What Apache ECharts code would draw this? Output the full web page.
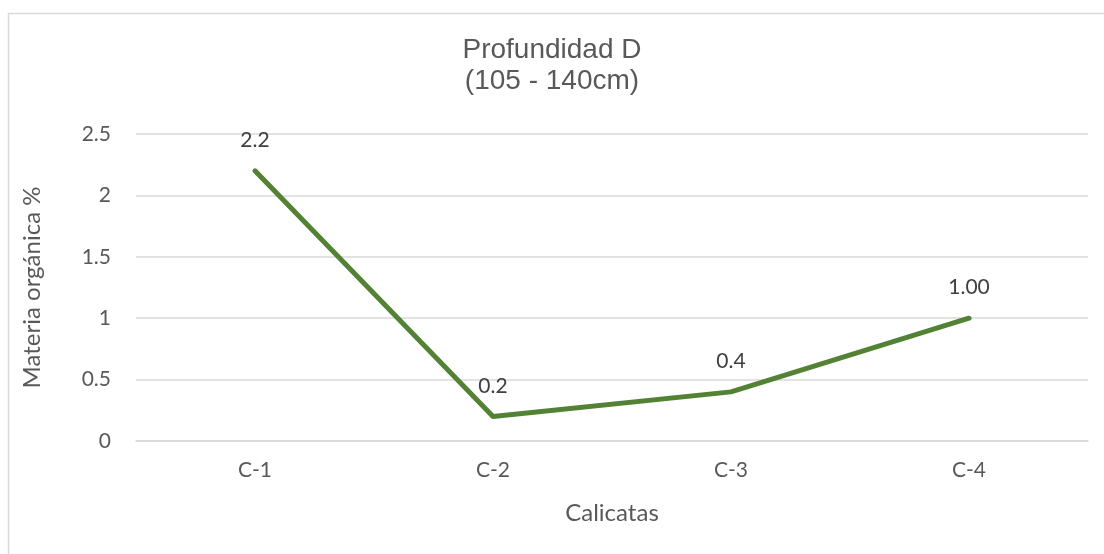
<!DOCTYPE html>
<html>
<head>
<meta charset="utf-8">
<script src="https://cdn.jsdelivr.net/npm/echarts@6/dist/echarts.min.js"></script>
<style>
  html, body { margin: 0; padding: 0; background: #fff; }
  #chart { width: 1104px; height: 554px; }
</style>
</head>
<body>
<div id="chart"></div>
<script>
// datos
var categorias = ['C-1', 'C-2', 'C-3', 'C-4'];
var materiaOrganica = [2.2, 0.2, 0.4, 1.0];
var etiquetas = ['2.2', '0.2', '0.4', '1.00'];

var chart = echarts.init(document.getElementById('chart'));

var option = {
  backgroundColor: '#fff',
  animation: false,
  title: {
    text: 'Profundidad D\n(105 - 140cm)',
    left: 'center',
    top: 30,
    textStyle: {
      fontFamily: 'Liberation Sans',
      fontSize: 28,
      fontWeight: 'normal',
      color: '#595959',
      lineHeight: 31
    }
  },
  graphic: [
    { type: 'line', shape: { x1: 8, y1: 13.5, x2: 1104, y2: 13.5 }, style: { stroke: '#d9d9d9', lineWidth: 1.5 } },
    { type: 'line', shape: { x1: 8.5, y1: 13, x2: 8.5, y2: 554 }, style: { stroke: '#d9d9d9', lineWidth: 1.5 } }
  ],
  grid: {
    left: 136,
    right: 16,
    top: 134,
    bottom: 113
  },
  xAxis: {
    type: 'category',
    data: categorias,
    name: 'Calicatas',
    nameLocation: 'middle',
    nameGap: 60,
    nameTextStyle: { fontFamily: 'Lato', fontSize: 24, color: '#595959' },
    axisLine: { show: true, lineStyle: { color: '#d9d9d9', width: 1.5 } },
    axisTick: { show: false },
    axisLabel: { fontFamily: 'Lato', fontSize: 21, color: '#595959', margin: 19 }
  },
  yAxis: {
    type: 'value',
    min: 0,
    max: 2.5,
    interval: 0.5,
    name: 'Materia orgánica %',
    nameLocation: 'middle',
    nameGap: 92,
    nameTextStyle: { fontFamily: 'Lato', fontSize: 24, color: '#595959' },
    axisLine: { show: false },
    axisTick: { show: false },
    splitLine: { lineStyle: { color: '#d9d9d9', width: 1.5 } },
    axisLabel: { fontFamily: 'Lato', fontSize: 21, color: '#595959', margin: 25 }
  },
  series: [
    {
      type: 'line',
      data: materiaOrganica,
      symbol: 'circle',
      symbolSize: 0,
      lineStyle: { color: '#548235', width: 5, cap: 'round', join: 'round' },
      itemStyle: { color: '#548235' },
      label: {
        show: true,
        position: 'top',
        distance: 20,
        fontFamily: 'Lato',
        fontSize: 21,
        color: '#404040',
        formatter: function (p) { return etiquetas[p.dataIndex]; }
      }
    }
  ]
};

chart.setOption(option);
</script>
</body>
</html>
